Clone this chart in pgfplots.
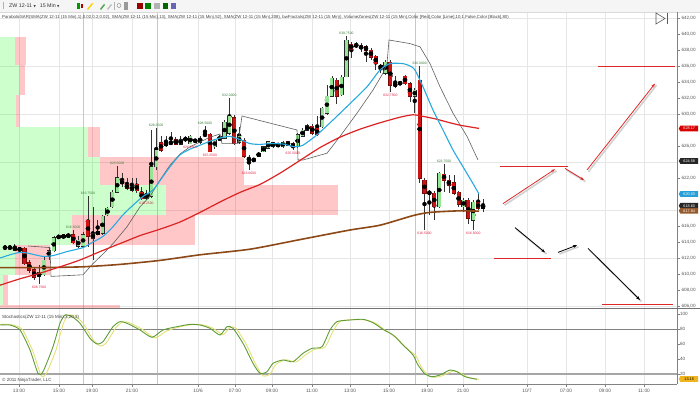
\documentclass[border=0pt]{standalone}
\usepackage{fontspec}
\setmainfont{Liberation Sans}
\newfontfamily\dejavu{DejaVu Sans}
\usepackage{pgfplots}
\usepackage{pgfplotstable}
\pgfplotsset{compat=1.18}
\usetikzlibrary{arrows.meta,shapes.symbols}

\definecolor{gridc}{RGB}{230,230,230}
\definecolor{sessc}{RGB}{200,200,200}
\definecolor{candg}{RGB}{150,228,150}
\definecolor{candr}{RGB}{205,20,20}
\definecolor{candro}{RGB}{120,10,10}
\definecolor{smablue}{RGB}{40,170,225}
\definecolor{smared}{RGB}{220,35,35}
\definecolor{smabrown}{RGB}{140,72,22}
\definecolor{sargray}{RGB}{95,95,95}
\definecolor{fracg}{RGB}{60,125,60}
\definecolor{fracr}{RGB}{220,40,70}
\definecolor{stg}{RGB}{95,155,55}
\definecolor{sty}{RGB}{228,224,120}
\definecolor{axc}{RGB}{130,130,130}
\definecolor{lblc}{RGB}{85,85,85}
\definecolor{drawred}{RGB}{222,40,40}
\definecolor{tagblue}{RGB}{40,160,215}
\definecolor{tagbrown}{RGB}{150,90,45}
\definecolor{tagorange}{RGB}{240,180,30}
\definecolor{zlime}{RGB}{0,255,0}
\definecolor{zred}{RGB}{255,0,0}

% green (up) candles: i O H L C
\pgfplotstableread{
i O H L C
0 613.2 613.6 613.0 613.4
3 613.0 613.3 612.8 613.2
7 609.7 611.1 608.75 610.2
8 609.9 612.2 609.7 611.75
9 612.2 613.4 611.75 612.9
10 612.9 614.7 612.8 614.5
11 614.6 614.9 614.4 614.7
12 614.6 615.0 614.4 614.8
13 614.7 615.1 614.5 614.9
15 613.5 614.7 613.2 614.25
16 613.5 615.3 613.2 614.9
18 614.5 618.4 611.75 615.0
20 615.1 617.4 614.9 617.2
21 617.4 618.4 617.2 618.2
22 618.4 620.5 618.2 620.2
23 620.2 623.5 620.1 622.0
26 620.5 622.0 620.3 621.0
29 619.5 620.5 619.25 620.0
30 619.7 628.0 619.5 623.4
31 623.4 628.25 623.0 625.5
34 626.3 627.8 626.1 626.5
36 626.25 627.2 626.1 626.75
37 626.8 627.2 626.5 626.9
38 626.3 627.4 626.25 627.2
39 626.6 626.9 626.4 626.7
40 626.5 627.25 626.3 627.0
41 627.3 628.5 627.1 627.5
43 625.9 626.9 625.6 626.7
44 626.75 627.4 626.6 627.2
45 627.0 629.2 626.9 629.0
46 627.6 632.0 627.4 629.7
48 626.5 628.4 626.25 627.2
52 624.75 625.2 624.6 625.1
53 625.3 626.0 625.2 625.9
54 625.7 626.6 625.6 626.5
55 625.9 626.5 625.8 626.4
56 626.0 626.4 625.9 626.25
57 625.9 626.6 625.8 626.5
60 625.9 627.6 625.7 627.4
61 627.25 628.2 627.1 628.0
62 628.0 628.7 627.9 628.5
65 628.4 630.9 628.2 630.7
66 630.1 633.6 629.9 632.25
67 632.25 634.7 632.2 634.5
69 632.4 634.9 632.2 634.6
70 634.7 639.75 634.6 639.25
78 635.1 636.75 634.9 636.5
80 633.6 634.7 633.2 633.7
81 633.8 634.1 633.6 633.9
84 632.25 633.2 630.1 633.0
87 620.1 620.5 617.4 620.2
89 618.4 622.8 618.2 622.6
94 618.4 619.5 617.8 619.25
96 616.75 619.25 615.5 619.0
98 618.2 619.4 617.8 618.6
}\greenc

% red (down) candles: i O H L C
\pgfplotstableread{
i O H L C
1 613.4 613.6 613.0 613.2
2 613.4 613.7 612.9 613.0
4 613.2 613.4 611.1 611.3
5 611.4 611.75 610.1 610.5
6 610.5 610.7 609.2 609.6
14 614.9 615.5 613.7 613.9
17 616.7 619.75 613.4 614.7
19 615.3 616.75 614.9 615.0
24 621.7 622.6 620.9 621.25
25 621.25 622.0 620.5 620.7
27 621.25 622.0 620.1 620.4
28 620.2 620.9 619.3 619.4
32 626.4 627.2 625.3 625.5
33 626.4 627.2 625.9 626.1
35 626.75 627.1 626.1 626.25
42 627.5 627.6 625.25 625.3
47 629.5 629.9 626.1 626.3
49 626.75 627.0 624.5 624.7
50 624.5 624.9 623.0 624.25
51 624.3 624.4 624.1 624.25
58 626.5 626.6 626.0 626.1
59 626.3 626.5 625.5 625.8
63 628.5 628.7 627.4 627.6
64 628.2 629.7 627.2 627.4
68 634.25 634.5 631.3 632.25
71 638.75 639.0 637.0 638.1
72 638.75 639.0 638.2 638.4
73 638.5 638.9 637.8 638.2
74 638.4 638.6 636.5 638.0
75 638.0 638.2 636.75 637.1
76 637.2 637.4 635.5 636.3
77 636.1 636.3 635.1 635.7
79 636.5 636.75 632.75 633.6
82 634.75 634.9 633.6 633.8
83 633.8 634.0 631.5 632.25
85 634.25 636.0 621.4 622.0
86 621.7 622.0 615.5 620.1
88 620.1 620.4 616.75 618.4
90 622.5 623.75 620.3 621.75
91 621.75 622.4 620.1 621.1
92 621.4 622.4 619.9 620.1
93 620.2 620.4 618.4 618.7
95 619.2 619.5 616.3 617.0
97 618.9 620.1 618.0 618.2
}\redc

\pgfplotsset{
  wick/.style={only marks, mark=none, forget plot,
    error bars/.cd, y dir=both, y explicit, error mark=none,
    error bar style={line width=0.55pt, draw=black!80}},
  body/.style 2 args={only marks, mark=none, forget plot,
    error bars/.cd, y dir=both, y explicit, error mark=none,
    error bar style={line width=#1, draw=#2}},
  % stochastics values (0..100) mapped into the lower panel
  stoch/.style={y filter/.expression={595.625+0.09375*y}},
}

\begin{document}
\begin{tikzpicture}[x=1pt,y=1pt]
\begin{axis}[width=677pt, height=372pt, scale only axis,
  xmin=0, xmax=677, ymin=596.25, ymax=642.75,
  axis line style={draw=none}, clip mode=individual,
  xtick={19,59,92,132,198,235,272,312,350,389,427,463,527,566,605,644},
  xticklabels={13:00,15:00,19:00,21:00,10/6,07:00,09:00,11:00,13:00,15:00,19:00,21:00,10/7,07:00,09:00,11:00},
  xtick pos=left, xticklabel style={font=\fontsize{4.8}{5}\selectfont, text=lblc, yshift=1pt},
  xmajorgrids, major grid style={gridc, line width=0.5pt},
  extra x ticks={83,157,415}, extra x tick labels={},
  extra x tick style={grid=major, major grid style={sessc, line width=0.7pt}, tick style={draw=none}},
  ytick={606,608,610,612,614,616,622,626,630,632,634,636,638,640,642}, ytick pos=right, yticklabel pos=right,
  tick align=outside, major tick length=2.5pt, tick style={axc, line width=0.5pt},
  yticklabel style={font=\fontsize{4.6}{5}\selectfont, text=lblc, xshift=-1.5pt},
  yticklabel={\pgfmathprintnumber[fixed,fixed zerofill,precision=2,use comma,assume math mode=true]{\tick}},
  minor ytick={606,612,...,642}, yminorgrids, minor grid style={gridc, line width=0.5pt}, minor tick length=0pt,
  extra y ticks={597.5,599.375,601.25,603.125,605}, extra y tick labels={20,40,60,80,100},
  extra y tick style={yticklabel style={font=\fontsize{4.6}{5}\selectfont, text=lblc, xshift=-1.5pt}},
]
% volume zones (lime / red)
\addplot[fill=zlime, fill opacity=0.2, draw=none, forget plot] coordinates {(0,636.1) (15,636.1) (15,639.6) (0,639.6)};
\addplot[fill=zred, fill opacity=0.22, draw=none, forget plot] coordinates {(15,636.1) (26,636.1) (26,639.6) (15,639.6)};
\addplot[fill=zlime, fill opacity=0.2, draw=none, forget plot] coordinates {(0,632.4) (19,632.4) (19,636.1) (0,636.1)};
\addplot[fill=zred, fill opacity=0.22, draw=none, forget plot] coordinates {(19,632.4) (25,632.4) (25,636.1) (19,636.1)};
\addplot[fill=zlime, fill opacity=0.2, draw=none, forget plot] coordinates {(0,628.4) (16,628.4) (16,632.4) (0,632.4)};
\addplot[fill=zred, fill opacity=0.22, draw=none, forget plot] coordinates {(16,628.4) (20,628.4) (20,632.4) (16,632.4)};
\addplot[fill=zlime, fill opacity=0.2, draw=none, forget plot] coordinates {(0,624.6) (88,624.6) (88,628.4) (0,628.4)};
\addplot[fill=zred, fill opacity=0.22, draw=none, forget plot] coordinates {(88,624.6) (100,624.6) (100,628.4) (88,628.4)};
\addplot[fill=zlime, fill opacity=0.2, draw=none, forget plot] coordinates {(0,621.1) (100,621.1) (100,624.6) (0,624.6)};
\addplot[fill=zred, fill opacity=0.22, draw=none, forget plot] coordinates {(100,621.1) (244,621.1) (244,624.6) (100,624.6)};
\addplot[fill=zlime, fill opacity=0.2, draw=none, forget plot] coordinates {(0,617.4) (166,617.4) (166,621.1) (0,621.1)};
\addplot[fill=zred, fill opacity=0.22, draw=none, forget plot] coordinates {(166,617.4) (338,617.4) (338,621.1) (166,621.1)};
\addplot[fill=zlime, fill opacity=0.2, draw=none, forget plot] coordinates {(0,613.6) (72,613.6) (72,617.4) (0,617.4)};
\addplot[fill=zred, fill opacity=0.22, draw=none, forget plot] coordinates {(72,613.6) (195,613.6) (195,617.4) (72,617.4)};
\addplot[fill=zlime, fill opacity=0.2, draw=none, forget plot] coordinates {(0,609.9) (15,609.9) (15,613.6) (0,613.6)};
\addplot[fill=zred, fill opacity=0.22, draw=none, forget plot] coordinates {(15,609.9) (50,609.9) (50,613.6) (15,613.6)};
\addplot[fill=zlime, fill opacity=0.2, draw=none, forget plot] coordinates {(0,606.1) (3,606.1) (3,609.9) (0,609.9)};
\addplot[fill=zred, fill opacity=0.22, draw=none, forget plot] coordinates {(3,606.1) (8,606.1) (8,609.9) (3,609.9)};
\addplot[fill=zred, fill opacity=0.22, draw=none, forget plot] coordinates {(0,605.8) (120,605.8) (120,606.1) (0,606.1)};

% wicks
\addplot[wick] table[x expr=5+4.878*\thisrow{i}, y expr=(\thisrow{H}+\thisrow{L})/2, y error expr=(\thisrow{H}-\thisrow{L})/2] {\greenc};
\addplot[wick] table[x expr=5+4.878*\thisrow{i}, y expr=(\thisrow{H}+\thisrow{L})/2, y error expr=(\thisrow{H}-\thisrow{L})/2] {\redc};
% bodies
\addplot[body={4.1pt}{black!85}] table[x expr=5+4.878*\thisrow{i}, y expr=(\thisrow{O}+\thisrow{C})/2, y error expr={max((\thisrow{C}-\thisrow{O})/2,0.07)+0.065}] {\greenc};
\addplot[body={3.1pt}{candg}] table[x expr=5+4.878*\thisrow{i}, y expr=(\thisrow{O}+\thisrow{C})/2, y error expr={max((\thisrow{C}-\thisrow{O})/2,0.07)}] {\greenc};
\addplot[body={4.1pt}{candro}] table[x expr=5+4.878*\thisrow{i}, y expr=(\thisrow{O}+\thisrow{C})/2, y error expr={max((\thisrow{O}-\thisrow{C})/2,0.07)+0.065}] {\redc};
\addplot[body={3.1pt}{candr}] table[x expr=5+4.878*\thisrow{i}, y expr=(\thisrow{O}+\thisrow{C})/2, y error expr={max((\thisrow{O}-\thisrow{C})/2,0.07)}] {\redc};

% Parabolic SAR (drawn as line)
\addplot[sargray, line width=0.6pt, mark=none] coordinates {
(28,613.5) (50,613.3) (51,609.7) (83,609.9) (93,611.3) (103,612.5) (113,613.8) (127,615.9)
(140,618.4) (150,619.7) (160,621.75) (170,623.6) (180,625.0) (190,625.9) (200,626.5) (210,627.1)
(220,627.5) (222,626.3) (238,626.3) (242,629.75) (297,628.0) (298,624.25) (303,624.25) (327,625.1)
(340,627.2) (357,630.1) (373,633.0) (383,635.1) (387,636.3) (389,639.25) (410,638.8) (420,638.4)
(430,636.3) (440,633.4) (453,630.1) (467,627.2) (478,624.25)};
% SMA 208
\addplot[smabrown, line width=1.6pt, mark=none, smooth, tension=0.4] coordinates {
(0,610.8) (40,610.8) (83,610.9) (120,611.2) (160,611.7) (200,612.4) (250,613.1) (300,614.3)
(350,615.5) (380,616.1) (413,617.3) (430,617.7) (460,617.9) (479,617.85)};
% SMA 52
\addplot[smared, line width=1.2pt, mark=none, smooth, tension=0.4] coordinates {
(0,608.6) (20,609.4) (40,610.1) (60,610.9) (80,611.75) (100,612.8) (120,613.8) (140,614.8)
(160,615.6) (180,616.5) (200,617.7) (220,619.0) (240,620.2) (260,621.2) (280,622.6) (300,624.2)
(320,625.8) (340,627.1) (360,628.1) (380,628.9) (400,629.6) (413,629.9) (423,629.7) (435,629.4)
(447,629.0) (460,628.6) (479,628.2)};
% SMA 13
\addplot[smablue, line width=1.1pt, mark=none, smooth, tension=0.4] coordinates {
(0,612.0) (10,612.4) (20,612.7) (28,612.6) (35,612.4) (43,612.2) (53,612.3) (67,612.8)
(83,613.3) (93,614.0) (103,614.7) (113,615.9) (123,617.4) (133,618.6) (143,619.7) (153,620.5)
(163,622.2) (170,623.4) (180,624.9) (190,625.6) (200,626.1) (210,626.6) (220,627.0) (230,627.2)
(240,626.8) (250,626.3) (260,626.2) (270,626.3) (283,626.25) (295,625.9) (303,626.1) (317,627.4)
(333,629.25) (350,631.3) (367,633.4) (380,635.5) (390,636.3) (403,636.3) (410,636.0) (415,635.5)
(423,633.4) (433,630.5) (443,628.0) (453,625.5) (463,623.4) (473,621.3) (479,620.0)};

% fractal labels
\addplot[only marks, mark=none, forget plot, nodes near coords, point meta=explicit symbolic,
  nodes near coords style={anchor=south, font=\fontsize{3.4}{3.6}\selectfont, text=fracg, inner sep=0.5pt, yshift=1.2pt}]
  coordinates {(87.9,619.75) [619.7500] (73.3,615.5) [616.5000] (117.2,623.5) [623.5000]
  (156.2,628.25) [628.2500] (205.0,628.5) [628.5000] (229.4,632.0) [632.0000]
  (346.5,639.75) [639.7500] (419.6,636.0) [636.0000] (444.0,623.75) [623.7500]};
\addplot[only marks, mark=none, forget plot, nodes near coords, point meta=explicit symbolic,
  nodes near coords style={anchor=north, font=\fontsize{3.4}{3.6}\selectfont, text=fracr, inner sep=0.5pt, yshift=-1.2pt}]
  coordinates {(39.1,608.75) [608.7500] (146.5,619.25) [619.2500] (190.4,626.25) [626.2500]
  (209.9,625.25) [625.2500] (248.9,623.0) [623.0000] (292.8,625.5) [625.5000]
  (390.4,632.75) [632.7500] (424.5,615.5) [616.5000] (473.3,615.5) [616.5000]};

% drawn objects: horizontal lines
\addplot[drawred, line width=0.9pt, forget plot] coordinates {(598,636) (675,636)};
\addplot[drawred, line width=0.9pt, forget plot] coordinates {(500,623.5) (568,623.5)};
\addplot[drawred, line width=0.9pt, forget plot] coordinates {(494,612) (551,612)};
\addplot[drawred, line width=0.9pt, forget plot] coordinates {(602,606.15) (673,606.15)};
% arrow shadows
\addplot[black!18, line width=1.6pt, forget plot] coordinates {(504.5,618.6) (556.5,622.9)};
\addplot[black!18, line width=1.6pt, forget plot] coordinates {(566.5,623.0) (585.5,621.55)};
\addplot[black!18, line width=1.6pt, forget plot] coordinates {(588.5,622.8) (656.5,633.6)};
\addplot[black!18, line width=1.6pt, forget plot] coordinates {(516.5,615.6) (546.5,612.5)};
\addplot[black!18, line width=1.6pt, forget plot] coordinates {(559.5,612.5) (578.5,613.4)};
\addplot[black!18, line width=1.6pt, forget plot] coordinates {(589.5,613.0) (641.5,606.55)};
% arrows
\addplot[drawred, line width=0.8pt, -{Stealth[length=4pt,width=3pt]}, forget plot] coordinates {(503,618.8) (555,623.1)};
\addplot[drawred, line width=0.8pt, -{Stealth[length=4pt,width=3pt]}, forget plot] coordinates {(565,623.2) (584,621.75)};
\addplot[drawred, line width=0.8pt, -{Stealth[length=4pt,width=3pt]}, forget plot] coordinates {(587,623.0) (655,633.8)};
\addplot[black, line width=0.8pt, -{Stealth[length=4pt,width=3pt]}, forget plot] coordinates {(515,615.8) (545,612.7)};
\addplot[black, line width=0.8pt, -{Stealth[length=4pt,width=3pt]}, forget plot] coordinates {(558,612.7) (577,613.6)};
\addplot[black, line width=0.8pt, -{Stealth[length=4pt,width=3pt]}, forget plot] coordinates {(588,613.2) (640,606.75)};

% ---- stochastics panel (values 0..100) ----
\addplot[axc, line width=0.5pt, forget plot, stoch] coordinates {(0,80) (677,80)};
\addplot[black!35, line width=1.1pt, forget plot, stoch] coordinates {(0,20) (677,20)};
\addplot[sty, line width=0.9pt, mark=none, smooth, tension=0.4, stoch] coordinates {
(0,86) (10,86) (22,80) (33,50) (41,18.5) (46,20) (56,52) (63,86) (68,98) (75,97) (83,88) (93,66)
(100,57.5) (106,61) (116,82) (123,89.5) (130,88) (143,79) (155,68) (166,77) (180,83) (193,86)
(203,85.5) (213,81) (223,72.5) (230,82) (236,81) (246,60) (256,32) (263,17.5) (270,20) (276,33)
(286,39) (296,36) (306,46) (315,53) (325,56) (333,77) (340,90) (353,92.5) (366,92) (376,87.5)
(386,77.5) (396,69) (406,55) (416,44) (421,30) (428,18) (435,15.5) (443,18) (453,24) (460,21.5)
(468,15.5) (479,13)};
\addplot[stg, line width=0.9pt, mark=none, smooth, tension=0.4, stoch] coordinates {
(0,85.3) (10,85.3) (20,78.7) (30,52) (38,20.9) (43,23.1) (53,56.4) (60,87.6) (65,98.7) (72,96.4)
(80,87.6) (90,67.6) (97,60) (103,63.1) (113,83.1) (120,89.8) (127,87.6) (140,78.7) (152,68.9)
(163,78.7) (177,83.1) (190,86.2) (200,85.3) (210,80.9) (220,72) (227,83.1) (233,80.9) (243,60.9)
(253,34.2) (260,20.9) (267,23.1) (273,34.2) (283,38.7) (293,36.4) (303,47.6) (312,54.2) (322,56.4)
(330,78.7) (337,89.8) (350,92) (363,92.9) (373,88.4) (383,79.5) (393,72) (403,58.7) (413,45.3)
(418,32) (425,20) (432,16.4) (440,18.7) (450,25.3) (457,23.1) (465,16.4) (477,12.9)};

% picture origin (pixel bottom-left of the whole chart)
\coordinate (O) at (axis cs:0,594.5);
\end{axis}

\begin{scope}[shift={(O)}]
% toolbar
\fill[black!4] (0,386) rectangle (700,398);
\draw[black!15] (0,386) -- (700,386);
\draw[black!30] (3,389) -- (3,396);
\node[anchor=west, inner sep=0pt, font=\fontsize{5.3}{6}\selectfont, text=black!80] at (9,392.3)
  {ZW 12-11 {\dejavu\fontsize{3}{3}\selectfont ▼}\hspace{4pt}15 Min {\dejavu\fontsize{3}{3}\selectfont ▼}};
\fill[green!60!black] (77,389) rectangle (80,395); \fill[red!70!black] (80.5,390) rectangle (82.5,394);
\fill[yellow!70!orange] (87,389) -- (92,395) -- (93,394) -- (88,388) -- cycle;
\fill[green!50!black!70] (100,389) -- (104,394) -- (105,393) -- (101,388) -- cycle;
\fill[black!25] (107,389) -- (111,394) -- (112,393) -- (108,388) -- cycle;
\draw[black!30] (114,388) -- (114,396);
\draw[black!50] (119,392.5) circle (2); \fill[black!40] (124,388) rectangle (128,396);
\fill[red!60!black] (137,389) rectangle (143,395); \fill[green!50!black] (145,389) rectangle (151,395);
\fill[black!30] (154,389) rectangle (160,395); \fill[green!40!black] (163,389) rectangle (168,395);
\fill[blue!50!black!60] (171,389) rectangle (176,395);

% frame lines
\draw[axc, line width=0.8pt] (677,14) -- (677,386);
\draw[black!55, line width=1pt] (0,89) -- (700,89);
\draw[axc, line width=0.6pt] (0,14) -- (677,14);

% texts
\node[anchor=west, inner sep=0pt, font=\fontsize{4.3}{5}\selectfont, text=black!75] at (2,381)
 {ParabolicSAR(SMA(ZW 12-11 (15 Min),1),0.02,0.2,0.02), SMA(ZW 12-11 (15 Min),13), SMA(ZW 12-11 (15 Min),52), SMA(ZW 12-11 (15 Min),208), bwFractals(ZW 12-11 (15 Min)), VolumeZones(ZW 12-11 (15 Min),Color [Red],Color [Lime],10,1,False,Color [Black],80)};
\node[anchor=west, inner sep=0pt, font=\fontsize{4.5}{5}\selectfont, text=black!75] at (2,80.5)
 {Stochastics(ZW 12-11 (15 Min),3,20,3)};
\node[anchor=west, inner sep=0pt, font=\fontsize{4.5}{5}\selectfont, text=black!75] at (2,17.5)
 {© 2011 NinjaTrader, LLC};

% scroll icon
\draw[black!65, line width=0.6pt] (656,385) -- (656,374) -- (665,379.5) -- cycle;
\draw[black!65, line width=0.9pt] (667,385) -- (667,374);

% price tags
\tikzset{tag/.style={shape=signal, signal to=west, signal pointer angle=120, anchor=west,
  inner xsep=0.8pt, inner ysep=0.5pt, minimum height=5.8pt, text width=16pt, align=center,
  font=\fontsize{3.8}{4}\selectfont, text=white}}
\node[tag, fill=red!85!black] at (678.5,269.4) {628.17};
\node[tag, fill=black!85] at (678.5,237) {624.58};
\node[tag, fill=tagblue] at (678.5,204) {620.03};
\node[tag, fill=black!85] at (678.5,192.3) {618.60};
\node[tag, fill=tagbrown] at (678.5,187.2) {617.84};
\node[tag, fill=tagorange, text=black] at (678.5,19) {13.15};
\end{scope}

\pgfresetboundingbox
\path[use as bounding box] (O) rectangle ++(700,398);
\end{tikzpicture}
\end{document}
